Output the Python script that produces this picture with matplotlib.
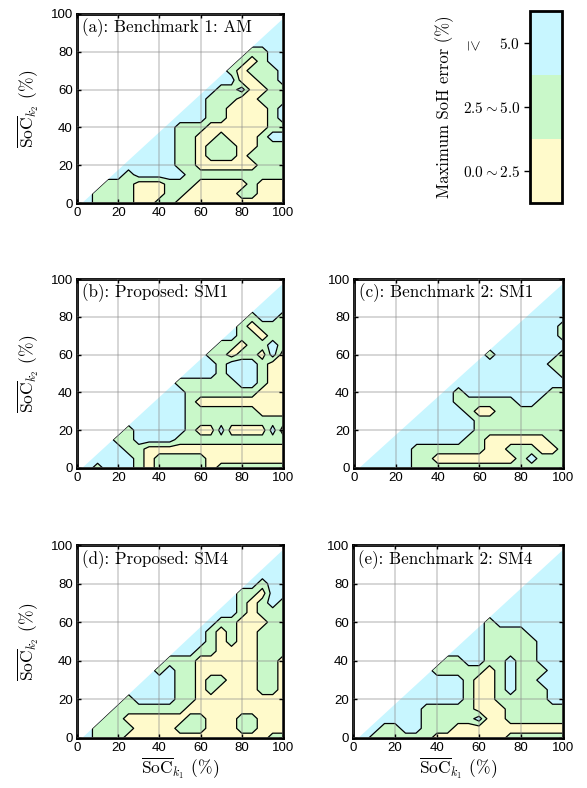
import matplotlib
matplotlib.use("Agg")
import matplotlib.pyplot as plt
import numpy as np
from matplotlib.patches import Polygon

# grid nodes (%), both axes
SOC_K1 = np.arange(0, 101, 5)
SOC_K2 = np.arange(0, 101, 5)

# error class per node, rows from SoC_k2 = 100 (top) down to 0,
# right-aligned on SoC_k1 = 100; y: 0-2.5, g: 2.5-5, c: >=5
MAP_A = ["", "c", "cc", "ccc", "ggcc", "gygcc", "gygggc", "ccyyggc",
         "cggcyygg", "cgggyyggg", "ccggyyyygc", "cccggyyyygc",
         "cgggyyyyyygg", "ccggyygyyygcc", "cccggygggyyggg",
         "ccccggygggygggg", "cccccggyyyyyyggg", "cgcccccgggggggggg",
         "gggyyygggyyyyygyyy", "ggggyyyggyyyyyggyyy", "cggggyyggyyyyyyyyyyy"]
MAP_B = ["", "c", "cc", "ccc", "gccg", "gyggg", "cggygg", "ggyggcg",
         "ggyggycy", "ccgcccgyy", "cccgcccgyy", "ggggggccgyy",
         "ccgggggggyyy", "cccgyyyyyyyyy", "ccccgggggggyyy",
         "cccccgggggggggg", "gcccccgyycyyyycy", "ggccccggggggggggg",
         "ccggyyyyyyyyyyyyyy", "ccccgygggggyyyyyyyy", "cgcccgygggggyggggggg"]
MAP_C = ["", "c", "cc", "ccc", "cccc", "ccccg", "cccccg", "ccccccc",
         "gccccccg", "cccccccgg", "cccccccccg", "ccccccccccc",
         "cgccccccccgg", "ccggggggccggg", "ccccgyyggggggg",
         "ccccccggggggggg", "cccccccggggggggg", "cccccccggyyyyyygg",
         "cccgggggggyygggyyg", "ccccggyyyyyyyygcggg", "cccccggggggggggggggg"]
MAP_D = ["", "c", "cc", "ccc", "cgcc", "ggycc", "cgygcg", "ccgyggg",
         "cggyyygg", "cgygyyggg", "ccgygyyggg", "ccggyyyyggg",
         "gggyyyyyyggy", "gcggyyyyyyggy", "cccggyggyyyggy",
         "ccccggygyyyyggy", "gccccggyyyyyyyyy", "gggggggyyyyyyyyyy",
         "ggyyyyyyggyyyggyyy", "ggggyyyygggyyyggyyy", "cgggyyyyyyyyyyyyyygg"]
MAP_E = ["", "c", "cc", "ccc", "cccc", "ccccc", "cccccc", "ccccccc",
         "gccccccc", "cggggcccc", "ccgggggccc", "cccgggggccc",
         "ggccggcggccc", "gggggygcgggcc", "ccccgyygcggccc",
         "cccccgyygcgggcc", "ccccccgyygggggcc", "cccgggggyyygggggg",
         "ccccgggggcyygggggg", "cggccgggyyyyyyyyyyy", "cggggggyyyyyyygggggg"]

TITLES = ["(a): Benchmark 1: AM", "(b): Proposed: SM1", "(c): Benchmark 2: SM1",
          "(d): Proposed: SM4", "(e): Benchmark 2: SM4"]
CLASS_LABELS = [r"$0.0{\sim}2.5$", r"$2.5{\sim}5.0$", r"$5.0$"]
CLASS_COLORS = ["#FFFACB", "#C9F8C9", "#C8F6FF"]
TICKS = [0, 20, 40, 60, 80, 100]

plt.rcParams["font.family"] = "Liberation Sans"
plt.rcParams["mathtext.fontset"] = "cm"
SERIF = "cmr10"


def to_grid(rows):
    code = {"y": 0.5, "g": 1.5, "c": 2.5, ".": 2.5}
    grid = np.array([[code[ch] for ch in r.rjust(len(SOC_K1), ".")] for r in rows])
    return grid[::-1]


fig = plt.figure(figsize=(5.87, 7.88), dpi=100)
W, H = 587, 788


def add_axes(left, top, right, bottom):
    return fig.add_axes([left / W, 1 - bottom / H, (right - left) / W, (bottom - top) / H])


boxes = [(77, 14, 283, 203), (77, 279, 283, 468), (354, 279, 563, 468),
         (77, 545, 283, 738), (353, 545, 563, 738)]
maps = [MAP_A, MAP_B, MAP_C, MAP_D, MAP_E]

X, Y = np.meshgrid(SOC_K1, SOC_K2)
cf_keep = None
for k, (box, rows, title) in enumerate(zip(boxes, maps, TITLES)):
    ax = add_axes(*box)
    Z = to_grid(rows)
    cf = ax.contourf(X, Y, Z, levels=[0, 1, 2, 3], colors=CLASS_COLORS, zorder=1)
    ax.contour(X, Y, Z, levels=[1, 2], colors="k", linewidths=0.9, zorder=1.2)
    # blank out the half above the diagonal (k1 must exceed k2)
    ax.add_patch(Polygon([(0, 0), (2.5, 0), (100, 97.5), (100, 100), (0, 100)],
                         closed=True, facecolor="white", edgecolor="none", zorder=1.4))
    if cf_keep is None:
        cf_keep = cf

    ax.set_xlim(0, 100)
    ax.set_ylim(0, 100)
    ax.set_xticks(TICKS)
    ax.set_yticks(TICKS)
    ax.set_axisbelow(False)
    ax.grid(True, color="#8c8c8c", alpha=0.45, linewidth=1.1)
    ax.tick_params(direction="in", top=True, right=True, length=3, width=1,
                   labelsize=9.5, pad=3)
    for s in ax.spines.values():
        s.set_linewidth(2)
    ax.text(0.022, 0.975, title, transform=ax.transAxes, ha="left", va="top",
            family=SERIF, fontsize=12.3)
    if box[0] < 200:
        ax.set_ylabel(r"$\overline{\mathrm{SoC}}_{k_2}$ (%)", family=SERIF,
                      fontsize=12.5, labelpad=7)
    if k >= 3:
        ax.set_xlabel(r"$\overline{\mathrm{SoC}}_{k_1}$ (%)", family=SERIF,
                      fontsize=12.5, labelpad=1)

# colour bar
cax = add_axes(530, 11, 562, 203)
cb = fig.colorbar(cf_keep, cax=cax, ticks=[0.5, 1.5, 2.5])
cb.ax.yaxis.set_ticks_position("left")
cb.ax.yaxis.set_label_position("left")
cb.set_ticklabels(CLASS_LABELS)
cb.ax.tick_params(length=4, width=1, direction="out", pad=3, labelsize=11)
cb.outline.set_linewidth(2)
cb.set_label("Maximum SoH error (%)", family=SERIF, fontsize=12, labelpad=6)
fig.text(473 / W, 1 - 44 / H, "$\\geq$", rotation=-90, ha="center", va="center",
         fontsize=11)

fig.savefig("out.png", dpi=100)
